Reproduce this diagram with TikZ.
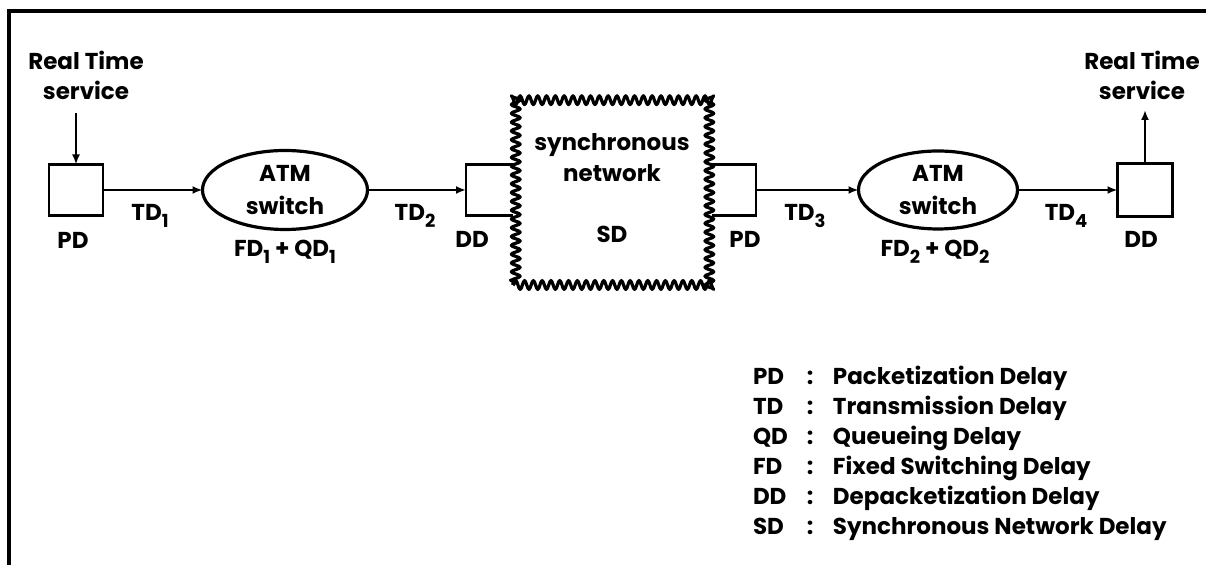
\documentclass[tikz,border=0pt]{standalone}
\usepackage{fontspec}
\setmainfont{Poppins}
\usetikzlibrary{arrows.meta,decorations.pathmorphing,shapes.geometric}
\newcommand\ssub[1]{\raisebox{-0.5ex}{\fontsize{9}{9}\selectfont #1}}
\begin{document}
\begin{tikzpicture}[x=0.5pt,y=-0.5pt,
  every node/.style={font=\bfseries\fontsize{11.5}{15}\selectfont, inner sep=0pt, outer sep=0pt},
  sq/.style={draw, line width=1.2pt, minimum width=27pt, minimum height=25.5pt},
  openbox/.style={minimum height=25.5pt},
  sw/.style={ellipse, draw, line width=1.6pt, align=center, font=\bfseries\fontsize{11.5}{16.5}\selectfont},
  arr/.style={line width=1.2pt, -{Latex[length=5pt,width=4pt]}},
  wavy/.style={draw, line width=1.6pt, line join=round, decorate,
    decoration={snake, segment length=4.4pt, amplitude=2.2pt},
    minimum width=99.5pt, minimum height=97.5pt},
  frame/.style={line width=1.75pt}
]
\useasboundingbox (0,0) rectangle (1206,565);
\draw[frame] (9,568) -- (9,11) -- (1210,11);

% left end
\node[align=center] (rt1) at (86,75) {Real Time\\service};
\coordinate (in1) at (76,113);
\node[sq] (pd1) at (76,190) {};
\node[anchor=base] (pd1l) at (73,249) {PD};
\draw[arr] (in1) -- (pd1.north);

% first switch
\node[sw, minimum width=82.5pt, minimum height=39.5pt] (sw1) at (285,190) {ATM\\switch};
\node[anchor=base] (sw1l) at (285,257) {FD\ssub{1} + QD\ssub{1}};
\draw[arr] (pd1) -- (sw1);
\node[anchor=base] (td1) at (150,221) {TD\ssub{1}};

% synchronous network
\node[wavy] (sn) at (612.5,187.5) {};
\node[anchor=base] (sn1) at (612,151) {synchronous};
\node[anchor=base] (sn2) at (612,182) {network};
\node[anchor=base] (sn3) at (612,243) {SD};

\node[openbox, minimum width=23.5pt] (dd1) at (489.5,190) {};
\draw[line width=1.2pt] (dd1.north east) -- (dd1.north west) -- (dd1.south west) -- (dd1.south east);
\node[anchor=base] (dd1l) at (472,248) {DD};
\draw[arr] (sw1) -- (dd1);
\node[anchor=base] (td2) at (415,221) {TD\ssub{2}};

\node[openbox, minimum width=22pt] (pd2) at (734,190) {};
\draw[line width=1.2pt] (pd2.north west) -- (pd2.north east) -- (pd2.south east) -- (pd2.south west);
\node[anchor=base] (pd2l) at (745,248) {PD};

% second switch
\node[sw, minimum width=79.5pt, minimum height=39pt] (sw2) at (938,190) {ATM\\switch};
\node[anchor=base] (sw2l) at (935,257) {FD\ssub{2} + QD\ssub{2}};
\draw[arr] (pd2) -- (sw2);
\node[anchor=base] (td3) at (805,221) {TD\ssub{3}};

% right end
\node[sq, minimum width=27.5pt, minimum height=26.5pt] (dd2) at (1145,190) {};
\node[anchor=base] (dd2l) at (1141,248) {DD};
\draw[arr] (sw2) -- (dd2);
\node[anchor=base] (td4) at (1066,221) {TD\ssub{4}};
\coordinate (out2) at (1145,110);
\draw[arr] (dd2.north) -- (out2);
\node[align=center] (rt2) at (1142,75) {Real Time\\service};

% legend
\node[anchor=base west] (legend) at (753,385) {%
  \begin{tabular}[t]{@{}p{27pt}@{}p{13pt}@{}l@{}}
  PD & : & Packetization Delay\\
  TD & : & Transmission Delay\\
  QD & : & Queueing Delay\\
  FD & : & Fixed Switching Delay\\
  DD & : & Depacketization Delay\\
  SD & : & Synchronous Network Delay
  \end{tabular}};
\end{tikzpicture}
\end{document}
